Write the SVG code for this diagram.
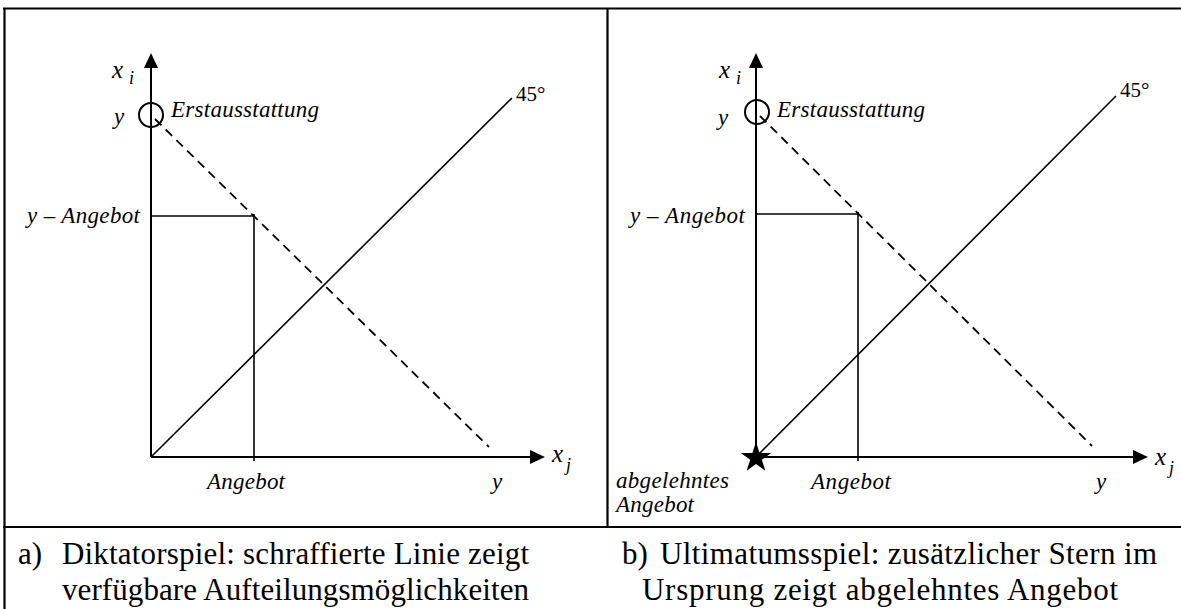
<svg xmlns="http://www.w3.org/2000/svg" width="1181" height="609" viewBox="0 0 1181 609" font-family="Liberation Serif, Times New Roman, DejaVu Serif, serif">
<style>
.frame{stroke:#000;stroke-width:2.2;fill:none}
.axis{stroke:#000;stroke-width:2;fill:none}
.thin{stroke:#000;stroke-width:1.6;fill:none}
.dash{stroke:#000;stroke-width:1.8;fill:none;stroke-dasharray:9 6}
.head{fill:#000}
text{fill:#000}
.lbl{font-style:italic;font-size:23px}
.var{font-style:italic;font-size:25px}
.sub{font-style:italic;font-size:18px}
.deg{font-size:21px}
.cap{font-size:31px}
</style>
<rect width="1181" height="609" fill="#fff"/>
<g id="frame">
<line class="frame" x1="3" y1="8.5" x2="1181" y2="8.5"/>
<line class="frame" x1="4.5" y1="8" x2="4.5" y2="609"/>
<line class="frame" x1="607.5" y1="8" x2="607.5" y2="527"/>
<line class="frame" x1="3" y1="527" x2="1181" y2="527"/>
</g>
<g id="panel-a">
<line class="axis" x1="151" y1="66" x2="151" y2="457"/>
<polygon class="head" points="151,53 144,68 158,68"/>
<line class="axis" x1="151" y1="457" x2="532" y2="457"/>
<polygon class="head" points="545,457 530,450 530,464"/>
<line class="thin" x1="151" y1="457" x2="512" y2="98"/>
<line class="dash" x1="155" y1="119" x2="489" y2="447"/>
<circle class="axis" cx="151" cy="115" r="12"/>
<line class="thin" x1="151" y1="216" x2="254" y2="216"/>
<line class="thin" x1="254" y1="214" x2="254" y2="461"/>
<text class="var" x="112" y="78">x</text><text class="sub" x="129" y="84">i</text>
<text class="lbl" x="114" y="124">y</text>
<text class="lbl" x="171" y="117" textLength="148">Erstausstattung</text>
<text class="lbl" x="27" y="223" textLength="113">y – Angebot</text>
<text class="deg" x="516" y="101">45°</text>
<text class="var" x="552" y="462">x</text><text class="sub" x="566" y="471">j</text>
<text class="lbl" x="207" y="489" textLength="78">Angebot</text>
<text class="lbl" x="492" y="489">y</text>
</g>
<g id="panel-b">
<line class="axis" x1="756" y1="66" x2="756" y2="457"/>
<polygon class="head" points="756,53 749,68 763,68"/>
<line class="axis" x1="756" y1="457" x2="1135" y2="457"/>
<polygon class="head" points="1148,457 1133,450 1133,464"/>
<line class="thin" x1="756" y1="457" x2="1116" y2="96"/>
<line class="dash" x1="760" y1="116" x2="1092" y2="446"/>
<circle class="axis" cx="757" cy="112" r="12"/>
<line class="thin" x1="756" y1="214" x2="858" y2="214"/>
<line class="thin" x1="858" y1="212" x2="858" y2="461"/>
<polygon class="head" points="756,442 759.6,453 771.2,453 761.8,459.8 765.4,470.8 756,464 746.6,470.8 750.2,459.8 740.8,453 752.4,453"/>
<text class="var" x="719" y="78">x</text><text class="sub" x="736" y="84">i</text>
<text class="lbl" x="718" y="125">y</text>
<text class="lbl" x="777" y="117" textLength="148">Erstausstattung</text>
<text class="lbl" x="630" y="223" textLength="115">y – Angebot</text>
<text class="deg" x="1120" y="97">45°</text>
<text class="var" x="1155" y="465">x</text><text class="sub" x="1169" y="474">j</text>
<text class="lbl" x="811" y="489" textLength="80">Angebot</text>
<text class="lbl" x="1096" y="489">y</text>
<text class="lbl" x="616" y="488" textLength="113">abgelehntes</text>
<text class="lbl" x="616" y="512" textLength="78">Angebot</text>
</g>
<g id="captions">
<text class="cap" x="18" y="564">a)</text>
<text class="cap" x="62" y="564" textLength="467">Diktatorspiel: schraffierte Linie zeigt</text>
<text class="cap" x="62" y="600" textLength="467">verfügbare Aufteilungsmöglichkeiten</text>
<text class="cap" x="622" y="564">b)</text>
<text class="cap" x="660" y="564" textLength="497">Ultimatumsspiel: zusätzlicher Stern im</text>
<text class="cap" x="642" y="600" textLength="476">Ursprung zeigt abgelehntes Angebot</text>
</g>
</svg>
